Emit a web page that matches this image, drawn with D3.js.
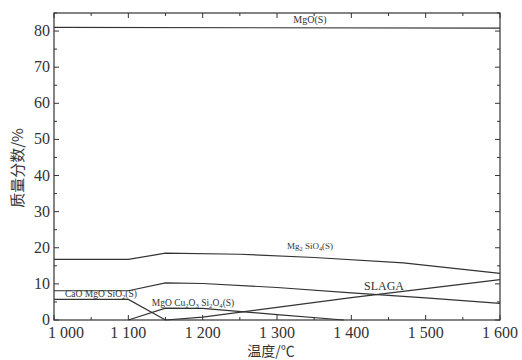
<!DOCTYPE html>
<html>
<head>
<meta charset="utf-8">
<script src="https://cdn.jsdelivr.net/npm/d3@7"></script>
<style>
  body { margin: 0; background: #fff; }
  svg { display: block; }
  text { font-family: "Liberation Serif", "DejaVu Serif", serif; fill: #333; }
</style>
</head>
<body>
<svg width="522" height="360"></svg>
<script>
// temperatures (°C) and mass fractions (%)
const mgoT = [1000, 1600];
const mgoV = [81, 80.8];

const mg2sio4T = [1000, 1100, 1150, 1250, 1350, 1470, 1600];
const mg2sio4V = [16.8, 16.8, 18.5, 18.2, 17.3, 15.8, 12.9];

const upperT = [1000, 1100, 1150, 1200, 1300, 1400, 1500, 1600];
const upperV = [8.1, 8.1, 10.3, 10.1, 9.0, 7.5, 6.1, 4.6];

const camgT = [1000, 1100, 1150];
const camgV = [5.7, 5.7, 0];

const mgcuT = [1100, 1150, 1200, 1300, 1390];
const mgcuV = [0, 3.3, 3.2, 1.5, 0];

const slagT = [1150, 1200, 1300, 1400, 1500, 1600];
const slagV = [0, 0.8, 3.5, 6.2, 8.7, 11.2];

const xTicks = [1000, 1100, 1200, 1300, 1400, 1500, 1600];
const yTicks = [0, 10, 20, 30, 40, 50, 60, 70, 80];

const svg = d3.select("svg");
const x = d3.scaleLinear().domain([1000, 1600]).range([54, 500]);
const y = d3.scaleLinear().domain([0, 85]).range([320, 13]);

// frame
svg.append("rect")
  .attr("x", x(1000)).attr("y", y(85))
  .attr("width", x(1600) - x(1000)).attr("height", y(0) - y(85))
  .attr("fill", "none").attr("stroke", "#333").attr("stroke-width", 1.2);

// inward ticks on all four sides, minor every 50 / 5
const xMinor = d3.range(1000, 1601, 50);
const yMinor = d3.range(0, 86, 5);
const tk = svg.append("g").attr("stroke", "#333").attr("stroke-width", 1);
xMinor.forEach(t => {
  const len = t % 100 === 0 ? 5 : 3;
  tk.append("line").attr("x1", x(t)).attr("x2", x(t)).attr("y1", y(0)).attr("y2", y(0) - len);
  tk.append("line").attr("x1", x(t)).attr("x2", x(t)).attr("y1", y(85)).attr("y2", y(85) + len);
});
yMinor.forEach(v => {
  const len = v % 10 === 0 ? 5 : 3;
  tk.append("line").attr("y1", y(v)).attr("y2", y(v)).attr("x1", x(1000)).attr("x2", x(1000) + len);
  tk.append("line").attr("y1", y(v)).attr("y2", y(v)).attr("x1", x(1600)).attr("x2", x(1600) - len);
});

// tick labels (the first one is pushed right, clear of the y "0")
const fmt = t => String(t).replace(/(\d)(\d{3})$/, "$1 $2");
svg.append("g").selectAll("text").data(xTicks).join("text")
  .attr("x", (d, i) => i === 0 ? x(d) - 6 : x(d)).attr("y", 338)
  .attr("text-anchor", (d, i) => i === 0 ? "start" : "middle")
  .attr("font-size", 16)
  .text(fmt);
svg.append("g").selectAll("text").data(yTicks).join("text")
  .attr("x", 50).attr("y", d => y(d) + 5)
  .attr("text-anchor", "end").attr("font-size", 16)
  .text(d => d);

// axis titles
svg.append("text")
  .attr("x", 271).attr("y", 356)
  .attr("text-anchor", "middle").attr("font-size", 14)
  .style("font-family", "'Noto Sans CJK SC', serif")
  .text("温度/℃");
svg.append("text")
  .attr("transform", "translate(23,168) rotate(-90)")
  .attr("text-anchor", "middle").attr("font-size", 15)
  .style("font-family", "'Noto Sans CJK SC', serif")
  .text("质量分数/%");

// curves
const line = d3.line().x(d => x(d[0])).y(d => y(d[1]));
const series = [
  [mgoT, mgoV], [mg2sio4T, mg2sio4V], [upperT, upperV],
  [camgT, camgV], [mgcuT, mgcuV], [slagT, slagV]
];
svg.append("g").selectAll("path").data(series).join("path")
  .attr("d", s => line(d3.zip(s[0], s[1])))
  .attr("fill", "none").attr("stroke", "#333").attr("stroke-width", 1.2);

// curve labels; parts are [text, isSubscript]
function label(px, py, size, parts) {
  const t = svg.append("text").attr("x", px).attr("y", py)
    .attr("text-anchor", "middle").attr("font-size", size);
  let shifted = false;
  parts.forEach(p => {
    const s = t.append("tspan").text(p[0]);
    if (p[1]) {
      s.attr("font-size", size * 0.7).attr("dy", shifted ? 0 : 2);
      shifted = true;
    } else {
      s.attr("dy", shifted ? -2 : 0);
      shifted = false;
    }
  });
}
label(310, 23, 10, [["MgO(S)"]]);
label(310, 249, 9, [["Mg"], ["2", 1], [" SiO"], ["4", 1], ["(S)"]]);
label(384, 290, 12, [["SLAGA"]]);
label(101, 297, 9.5, [["CaO MgO SiO"], ["2", 1], ["(S)"]]);
label(193, 306, 9.5, [["MgO Cu"], ["2", 1], ["O"], ["3", 1], [" Si"], ["2", 1], ["O"], ["4", 1], ["(S)"]]);
</script>
</body>
</html>
